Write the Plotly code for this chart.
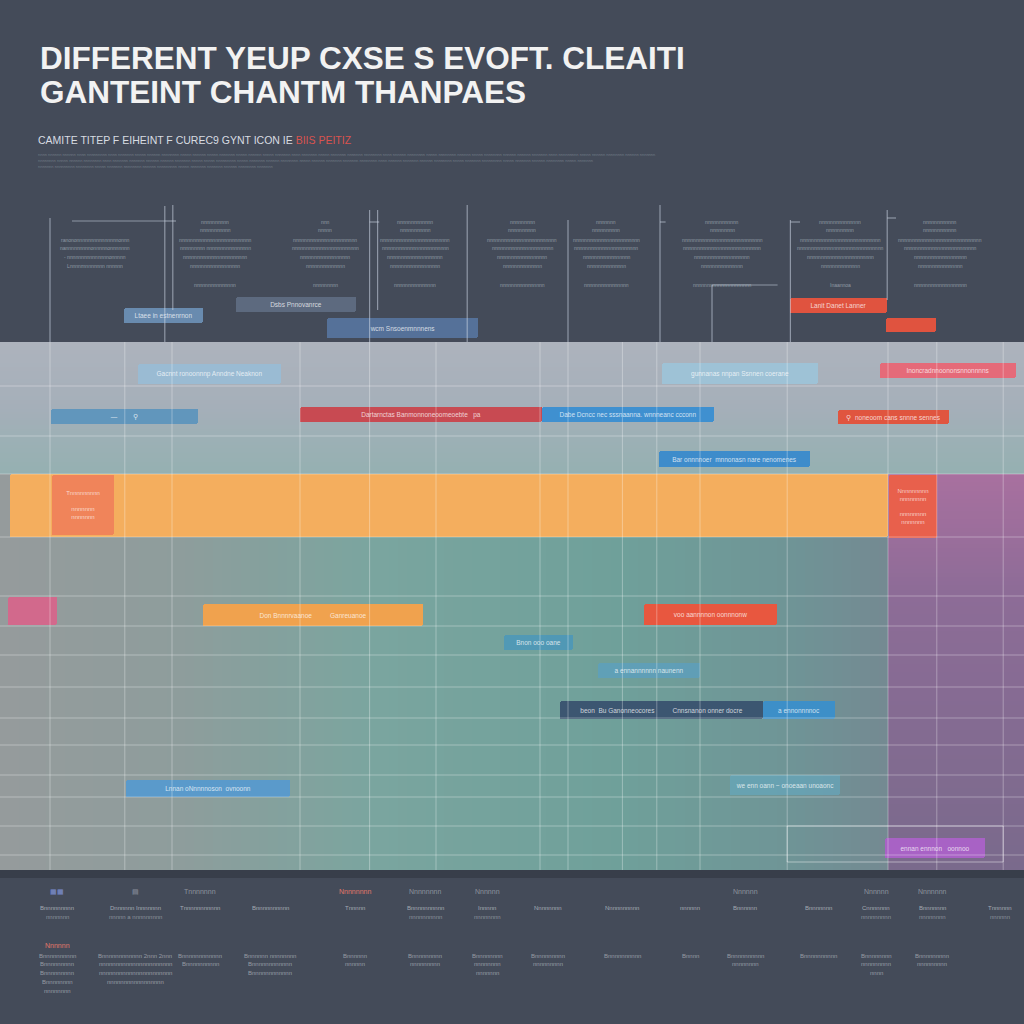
import numpy as np
import plotly.graph_objects as go

# ---------------- data ----------------
# Gantt tasks: start / end in weeks, lane = row position
task_label = ["Ltaee in estnenrnon", "Dsbs Pnnovanrce", "wcm Snsoenmnnnens", "Lanit Danet Lanner",
              "", "Gacnnt ronoonnnp Anndne Neaknon", "gunnanas nnpan Ssnnen coerane", "Inoncradnnoononsnnonnnns",
              "—         ⚲", "Dartarnctas Banmonnoneoomeoebte   pa", "Dabe Dcncc nec sssnaanna. wnnneanc ccconn",
              "⚲  noneoom cans snnne sennes", "Bar onnnnoer  mnnonasn nare nenomenes",
              "", "", "", "",
              "Don Bnnnrvaanoe          Ganreuanoe", "voo aannnnon oonnnonw", "Bnon ooo oane", "a ennannnnnn naunenn",
              "beon  Bu Ganonneocores          Cnnsnanon onner docre", "a ennonnnnoc", "Lnnan oNnnnnoson  ovnoonn",
              "we enn oann ~ onoeaan unoaonc", "ennan ennnon   oonnoo"]
task_start = [7.75, 14.75, 20.45, 49.4, 55.4, 8.6, 41.4, 55.0, 3.2, 18.75, 33.9, 52.4, 41.2,
              0.6, 3.25, 55.55, 0.5, 12.7, 40.25, 31.5, 37.4, 35.0, 47.7, 7.9, 45.6, 55.3]
task_end = [12.7, 22.25, 29.9, 55.45, 58.5, 17.55, 51.1, 63.5, 12.4, 33.9, 44.6, 59.3, 50.6,
            55.5, 7.1, 58.55, 3.55, 26.45, 48.55, 35.8, 43.75, 47.7, 52.2, 18.1, 52.5, 61.55]
task_lane = [31.55, 30.45, 32.8, 30.55, 32.5, 37.4, 37.35, 37.05, 41.65, 41.45, 41.45, 41.7, 45.9,
             50.55, 50.5, 50.6, 61.1, 61.5, 61.45, 64.25, 67.05, 71.0, 71.0, 78.85, 78.5, 84.8]
block_label = ["Tnnnnnnnnn<br> <br>nnnnnnn<br>nnnnnnn", "Nnnnnnnnn<br>nnnnnnnn<br> <br>nnnnnnnn<br>nnnnnnn"]
block_start = [3.25, 55.55]
block_end = [7.1, 58.55]
block_lane = [50.5, 50.6]

# milestone grid (weeks) and row separators (lanes)
milestone_weeks = [3.125, 7.8, 10.75, 18.75, 23.1, 27.25, 33.75, 35.5, 38.9, 41.05, 43.75, 49.2, 55.5, 58.55, 62.7]
row_lines = [38.6, 43.6, 47.4, 53.7, 59.6, 62.6, 65.5, 68.7, 71.8, 74.5, 77.5, 79.7, 82.6, 85.5]

# dependency connectors in the header zone (week, top lane, bottom lane)
conn_week = [3.125, 10.3, 10.8, 23.1, 23.6, 29.2, 35.5, 41.25, 44.5, 49.4, 55.45]
conn_top = [21.8, 20.6, 20.5, 21.0, 21.0, 20.5, 22.0, 20.5, 28.5, 22.0, 21.0]
conn_bot = [34.2, 34.2, 31.0, 34.2, 31.0, 34.2, 34.2, 34.2, 34.2, 34.2, 30.0]

title_lines = ["DIFFERENT YEUP CXSE S EVOFT. CLEAITI", "GANTEINT CHANTM THANPAES"]
subtitle = "CAMITE TITEP F EIHEINT F CUREC9 GYNT ICON IE"
subtitle_red = "BIIS PEITIZ"
fine_print = [
    "nnnn nnnnnn nnnnnn nnnn nnnnnnnnn nnnn nnnnnnn nnnnn nnnnnn nnnnnnnn nnnnn nnnnnn nnnnn nnnnnnn nnnnn nnnnnn nnnnn "
    "nnnnnnn nnnn nnnnnnn nnnnn nnnnnnn nnnnnnn nnnnnnnn nnnn nnnnnn nnnnnnnn nnnnn nnnnnnnn nnnnnn nnnnn nnnnnnnn nnnnnn "
    "nnnnnn nnnnnnn nnnn nnnnnnnnn nnnnn nnnnnn nnnnnnnn nnnnnn nnnnnnn",
    "nnnnnnnn nnnnn nnnnnn nnnnnnnn nnnn nnnnnnn nnnnnnn nnnnnn nnnnnn nnnnnnn nnnnn nnnnn nnnnnnnnn nnnnn nnnnnnn nnnnnn "
    "nnnnnnnn nnnnn nnnnnn nnnnnnn nnnnnnn nnnnnnnn nnnn nnnnnn nnnnnnn nnnnnn nnnnnnnn nnnnn nnnnnnn nnnnnnnnn nnnnn "
    "nnnnnnn nnnnnn nnnnnnnn nnnnn nnnnnnn",
    "nnnnnnn nnnnnnnnn nnnnnnnn nnnnn nnnnnnn nnnnnnnn nnnnnn nnnnnnnnn nnnnn nnnnnnn nnnnnnn nnnnnn nnnnnnnn nnnnnnn",
]

top_cols = [95, 215, 325, 415, 522, 606, 722, 840, 940]
top_lines = [
    ["", "", "ranononnnnnnnnnnnnnnnonnn", "nannnnnnnnnonnnnnonnnnnnn", "- nnnnnnnnnnnnnnnonnnnn", "Lnnnnrnnnnnnnn nnnnnn", ""],
    ["nnnnnnnnnn", "nnnnnnnnnnn", "nnnnnnnnnnnnnnnnnnnnnnnnnn", "nnnnnnnnn nnnnnnnnnnnnnnnn", "nnnnnnnnnnnnnnnnnnnnnnn", "nnnnnnnnnnnnnnnnnn", "nnnnnnnnnnnnnnn"],
    ["nnn", "nnnnn", "nnnnnnnnnnnnnnnnnnnnnnn", "nnnnnnnnnnnnnnnnnnnnnnnn", "nnnnnnnnnnnnnnnnnn", "nnnnnnnnnnnnnn", "nnnnnnnnn"],
    ["nnnnnnnnnnnnn", "nnnnnnnnnnn", "nnnnnnnnnnnnnnnnnnnnnnnnn", "nnnnnnnnnnnnnnnnnnnnnnnn", "nnnnnnnnnnnnnnnnnnnn", "nnnnnnnnnnnnnnnnnn", "nnnnnnnnnnnnnnn"],
    ["nnnnnnnnn", "nnnnnnnnnn", "nnnnnnnnnnnnnnnnnnnnnnnnn", "nnnnnnnnnnnnnnnnnnnnnn", "nnnnnnnnnnnnnnnnnn", "nnnnnnnnnnnnnn", "nnnnnnnnnnnnnnnn"],
    ["nnnnnnn", "nnnnnnnnnn", "nnnnnnnnnnnnnnnnnnnnnnnn", "nnnnnnnnnnnnnnnnnnnnnnn", "nnnnnnnnnnnnnnnnn", "nnnnnnnnnnnnnn", "nnnnnnnnnnnnnnnn"],
    ["nnnnnnnnnnnn", "nnnnnnnnn", "nnnnnnnnnnnnnnnnnnnnnnnnnnnnn", "nnnnnnnnnnnnnnnnnnnnnnnnnnnn", "nnnnnnnnnnnnnnnnnnnn", "nnnnnnnnnnnnnnn", "nnnnnnnnnnnnnnnnnnnnn"],
    ["nnnnnnnnnnnnnnn", "nnnnnnnnnn", "nnnnnnnnnnnnnnnnnnnnnnnnnnnnn", "nnnnnnnnnnnnnnnnnnnnnnnnnnnnnnn", "nnnnnnnnnnnnnnnnnnnnnnnn", "nnnnnnnnnnnnnn", "Inaannoa"],
    ["nnnnnnnnnnnn", "nnnnnnnnnnnn", "nnnnnnnnnnnnnnnnnnnnnnnnnnnnnn", "nnnnnnnnnnnnnnnnnnnnnnnnnn", "nnnnnnnnnnnnnnnnnnn", "nnnnnnnnnnnnnnnn", "nnnnnnnnnnnnnnnnnnn"],
]
top_line_y = [222, 230, 240, 248, 257, 266, 285]

bottom_cols = [57, 135, 200, 270, 355, 425, 487, 548, 622, 690, 745, 818, 876, 932, 1000]
bottom_head = ["▦▦", "▤", "Tnnnnnnn", "", "Nnnnnnnn", "Nnnnnnnn", "Nnnnnn", "", "", "", "Nnnnnn", "", "Nnnnnn", "Nnnnnnn", ""]
bottom_a1 = ["Bnnnnnnnnn", "Dnnnnnn Innnnnnn", "Tnnnnnnnnnnn", "Bnnnnnnnnnn", "Tnnnnn", "Bnnnnnnnnnn", "Innnnn", "Nnnnnnnn", "Nnnnnnnnnn", "nnnnnn", "Bnnnnnn", "Bnnnnnnn", "Cnnnnnnn", "Bnnnnnnn", "Tnnnnnn"]
bottom_a2 = ["nnnnnnn", "nnnnn a nnnnnnnnn", "", "", "", "nnnnnnnnnn", "nnnnnnnn", "", "", "", "", "", "nnnnnnnnn", "nnnnnnnn", "nnnnnn"]
bottom_b = [
    ["Bnnnnnnnnnn", "Bnnnnnnnnnnnn 2nnn 2nnn", "Bnnnnnnnnnnnn", "Bnnnnnn nnnnnnnn", "Bnnnnnn", "Bnnnnnnnnn", "Bnnnnnnnn", "Bnnnnnnnnn", "Bnnnnnnnnnn", "Bnnnn", "Bnnnnnnnnnn", "Bnnnnnnnnnn", "Bnnnnnnnn", "Bnnnnnnnnn", ""],
    ["Bnnnnnnnnn", "nnnnnnnnnnnnnnnnnnnnnn", "Bnnnnnnnnnn", "Bnnnnnnnnnnnn", "nnnnnn", "nnnnnnnnn", "nnnnnnnn", "nnnnnnnnn", "", "", "nnnnnnnn", "", "nnnnnnnnn", "nnnnnnnnn", ""],
    ["Bnnnnnnnnn", "nnnnnnnnnnnnnnnnnnnnnn", "", "Bnnnnnnnnnnnn", "", "", "nnnnnnn", "", "", "", "", "", "nnnn", "", ""],
    ["Bnnnnnnnn", "nnnnnnnnnnnnnnnnn", "", "", "", "", "", "", "", "", "", "", "", "", ""],
    ["nnnnnnnn", "", "", "", "", "", "", "", "", "", "", "", "", "", ""],
]
bottom_b_y = [956, 964, 973, 982, 991]

# ---------------- styles ----------------
task_color = ["rgba(112,150,190,0.85)", "rgba(98,112,134,0.85)", "rgba(88,118,160,0.9)", "#e0533f",
              "#e0533f", "rgba(150,190,218,0.78)", "rgba(155,198,222,0.78)", "#e56a79",
              "#6196bc", "#c84a52", "#3f90d0", "#e0553f", "#3e8ccb",
              "#f4ae5e", "#f0845a", "#e8604c", "#d2698c", "#f0a24e", "#e8573f",
              "rgba(70,150,190,0.75)", "rgba(90,160,195,0.7)", "#3c5671", "#3d8fc8", "#5a9acb",
              "rgba(100,170,195,0.6)", "#a862c5"]
task_thick = [1.5, 1.5, 2.0, 1.5, 1.4, 2.0, 2.1, 1.5, 1.5, 1.5, 1.5, 1.4, 1.6,
              6.3, 6.0, 6.3, 2.8, 2.2, 2.1, 1.5, 1.5, 1.8, 1.8, 1.7, 2.0, 2.0]

BG = "#444b59"
TXT = "rgba(225,230,238,0.55)"
FONT = "Liberation Sans Narrow, Liberation Sans, Arial"

fig = go.Figure()


def zone(x0, x1, y0, y1, kind, scale, n=96):
    """gradient background zone drawn as a heatmap (stays below bars)."""
    vals = np.linspace(0, 1, n)
    if kind == "horizontal":
        xs = np.linspace(x0, x1, n + 1)
        ys = [y0, y1]
        z = [vals.tolist()]
    else:
        xs = [x0, x1]
        ys = np.linspace(y0, y1, n + 1)
        z = [[v] for v in vals]
    fig.add_trace(go.Heatmap(x=xs, y=ys, z=z, colorscale=scale, zmin=0, zmax=1,
                             showscale=False, hoverinfo="skip"))


# background zones
zone(0, 64, 34.2, 47.4, "vertical", [[0, "#adb3bd"], [0.5, "#a5afb9"], [0.75, "#9cb0b5"], [1, "#95b0b1"]])
zone(0, 55.5, 47.4, 87.0, "horizontal",
     [[0, "#959b9c"], [0.2, "#8e9d9c"], [0.42, "#7aa59f"], [0.7, "#6fa09a"], [0.9, "#6f9496"], [1, "#748a92"]])
zone(55.5, 64, 47.4, 87.0, "vertical", [[0, "#a8709f"], [0.3, "#8d6c97"], [1, "#7a6a8c"]])
zone(0, 64, 87.0, 87.8, "vertical", [[0, "#383e4a"], [1, "#383e4a"]], n=2)

# Gantt bars
dur = [e - s for s, e in zip(task_start, task_end)]
fig.add_trace(go.Bar(
    orientation="h", base=task_start, x=dur, y=task_lane, width=task_thick,
    marker=dict(color=task_color, line=dict(width=0), cornerradius=2),
    text=task_label, textposition="inside", insidetextanchor="middle", textangle=0,
    textfont=dict(size=6.5, color="rgba(255,255,255,0.75)", family=FONT),
    constraintext="none", hoverinfo="skip", showlegend=False))
# labels of the two phase blocks in the orange band
bdur = [e - s for s, e in zip(block_start, block_end)]
fig.add_trace(go.Bar(
    orientation="h", base=block_start, x=bdur, y=block_lane, width=[6.0, 6.3],
    marker=dict(color="rgba(0,0,0,0)", line=dict(width=0)),
    text=block_label, textposition="inside", insidetextanchor="middle", textangle=0,
    textfont=dict(size=6, color="rgba(255,255,255,0.7)", family=FONT),
    constraintext="none", hoverinfo="skip", showlegend=False))

# grid lines (semi-transparent, drawn above bars like the reference)
gx, gy = [], []
for w in milestone_weeks:
    gx += [w, w, None]
    gy += [34.2, 87.0, None]
for r in row_lines:
    gx += [0, 64, None]
    gy += [r, r, None]
fig.add_trace(go.Scatter(x=gx, y=gy, mode="lines", line=dict(color="rgba(255,255,255,0.32)", width=1),
                         hoverinfo="skip", showlegend=False))

# header connectors
cx, cy = [], []
for w, t, b in zip(conn_week, conn_top, conn_bot):
    cx += [w, w, None]
    cy += [t, b, None]
fig.add_trace(go.Scatter(x=cx, y=cy, mode="lines", line=dict(color="rgba(205,215,230,0.55)", width=1.2),
                         hoverinfo="skip", showlegend=False))
ex = [4.5, 10.3, None, 10.3, 11.0, None, 23.1, 23.7, None, 41.25, 41.6, None, 44.5, 48.6, None, 49.4, 50.0, None, 55.45, 56.0]
ey = [22.1, 22.1, None, 22.1, 22.1, None, 22.2, 22.2, None, 22.2, 22.2, None, 28.5, 28.5, None, 22.2, 22.2, None, 21.8, 21.8]
fig.add_trace(go.Scatter(x=ex, y=ey, mode="lines", line=dict(color="rgba(205,215,230,0.55)", width=1.2),
                         hoverinfo="skip", showlegend=False))

# outline box at bottom right
fig.add_shape(type="rect", x0=49.2, x1=62.7, y0=82.6, y1=86.2, line=dict(color="rgba(255,255,255,0.45)", width=1))

annotations = []


def ann(px, py, text, size=6, color=TXT, anchor="center", bold=False, family=FONT):
    annotations.append(dict(x=px / 16, y=py / 10, xref="x", yref="y", text=text, showarrow=False,
                            xanchor=anchor, yanchor="middle",
                            font=dict(size=size, color=color, family=family, weight="bold" if bold else "normal")))


# title
ann(38, 58, title_lines[0], size=31.5, color="#f2f2f2", anchor="left", bold=True)
ann(38, 92, title_lines[1], size=31.5, color="#f2f2f2", anchor="left", bold=True)
ann(36, 140, subtitle + ' <span style="color:#d9534f">' + subtitle_red + '</span>', size=10.5,
    color="#d8dce2", anchor="left")
for fy, fp in zip([154, 160, 166], fine_print):
    ann(36, fy, fp, size=4, color="rgba(220,225,235,0.3)", anchor="left")

# header text blocks
for cxp, lines in zip(top_cols, top_lines):
    for ly, t in zip(top_line_y, lines):
        if t:
            ann(cxp, ly, t, size=5, color="rgba(220,226,236,0.5)")

# footer text
for bx, h, a1, a2 in zip(bottom_cols, bottom_head, bottom_a1, bottom_a2):
    hc = "rgba(225,230,238,0.45)"
    if bx == 57:
        hc = "#7d8fd0"
    if bx == 355:
        hc = "#e0786a"
    if h:
        ann(bx, 891, h, size=7, color=hc)
    if a1:
        ann(bx, 908, a1, size=6, color="rgba(225,230,238,0.6)")
    if a2:
        ann(bx, 917, a2, size=6, color="rgba(225,230,238,0.45)")
ann(57, 945, "Nnnnnn", size=7, color="#e0786a")
for ly, row in zip(bottom_b_y, bottom_b):
    for bx, t in zip(bottom_cols, row):
        if t:
            ann(bx, ly, t, size=6, color="rgba(225,230,238,0.5)")

fig.update_layout(
    width=1024, height=1024, autosize=False,
    margin=dict(l=0, r=0, t=0, b=0),
    paper_bgcolor=BG, plot_bgcolor=BG,
    barmode="overlay", bargap=0,
    xaxis=dict(range=[0, 64], visible=False, fixedrange=True),
    yaxis=dict(range=[102.4, 0], visible=False, fixedrange=True),
    annotations=annotations,
    showlegend=False,
)

fig.write_html("out.html")
